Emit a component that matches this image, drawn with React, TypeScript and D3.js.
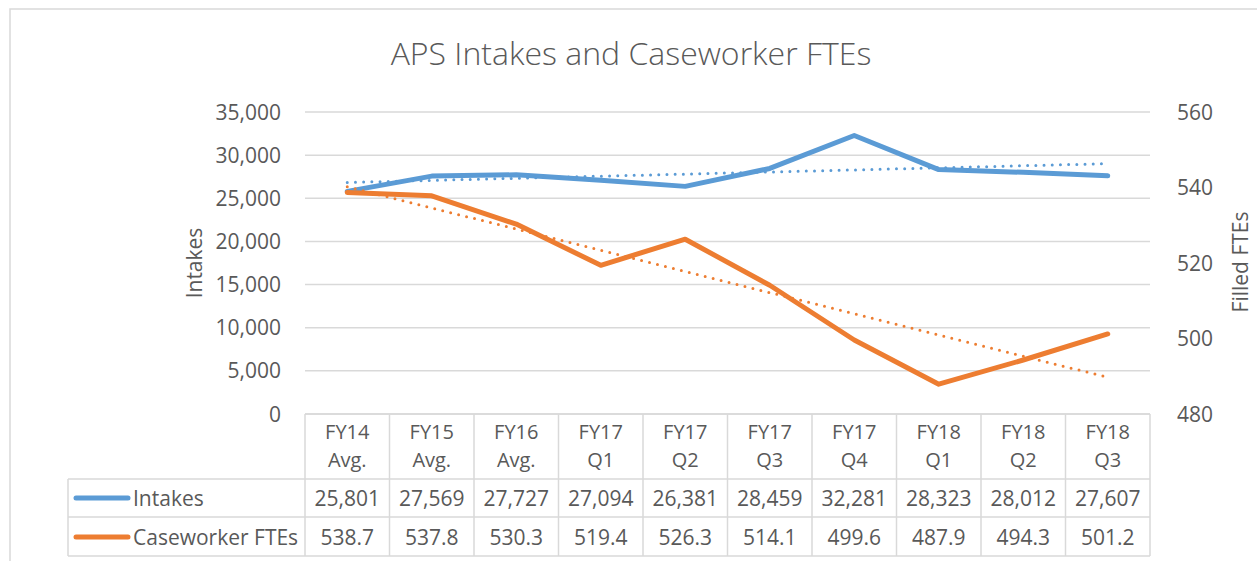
import React from "react";
import * as d3 from "d3";

const categories = [
  ["FY14", "Avg."], ["FY15", "Avg."], ["FY16", "Avg."], ["FY17", "Q1"], ["FY17", "Q2"],
  ["FY17", "Q3"], ["FY17", "Q4"], ["FY18", "Q1"], ["FY18", "Q2"], ["FY18", "Q3"],
];
const intakes = [25801, 27569, 27727, 27094, 26381, 28459, 32281, 28323, 28012, 27607];
const ftes = [538.7, 537.8, 530.3, 519.4, 526.3, 514.1, 499.6, 487.9, 494.3, 501.2];
const leftTicks = [0, 5000, 10000, 15000, 20000, 25000, 30000, 35000];
const rightTicks = [480, 500, 520, 540, 560];

const BLUE = "#5B9BD5";
const ORANGE = "#ED7D31";
const TEXT = "#595959";
const GRID = "#D9D9D9";
const FONT = "'Open Sans', sans-serif";

// least squares fit over the category index, like Excel's linear trendline
function trend(values: number[]) {
  const xs = values.map((_, i) => i + 1);
  const mx = d3.mean(xs)!;
  const my = d3.mean(values)!;
  const slope = d3.sum(xs, (x, i) => (x - mx) * (values[i] - my)) / d3.sum(xs, (x) => (x - mx) ** 2);
  const icpt = my - slope * mx;
  return values.map((_, i) => icpt + slope * (i + 1));
}

export default function App() {
  const width = 1257;
  const height = 561;
  const plotLeft = 305;
  const plotRight = 1150;
  const plotTop = 112;
  const plotBottom = 414;
  const tableLeft = 68;
  const headerBottom = 479;
  const row1Bottom = 517;
  const row2Bottom = 556;

  const keys = categories.map((c) => c.join(" "));
  const x = d3.scaleBand().domain(keys).range([plotLeft, plotRight]).padding(0);
  const cx = (i: number) => x(keys[i])! + x.bandwidth() / 2;
  const yL = d3.scaleLinear().domain([0, 35000]).range([plotBottom, plotTop]);
  const yR = d3.scaleLinear().domain([480, 560]).range([plotBottom, plotTop]);
  const fmt = d3.format(",");

  const lineL = d3.line<number>().x((_, i) => cx(i)).y((d) => yL(d));
  const lineR = d3.line<number>().x((_, i) => cx(i)).y((d) => yR(d));

  const colEdges = keys.map((k) => x(k)!).concat([plotRight]);

  return (
    <svg width={width} height={height} style={{ position: "absolute", left: 0, top: 0, background: "#fff" }}>
      <rect x={10} y={9} width={1300} height={600} fill="#fff" stroke={GRID} strokeWidth={1.5} />
      <text x={631} y={65} textAnchor="middle" fontFamily={FONT} fontSize={32} fill={TEXT} fontWeight={300}>
        APS Intakes and Caseworker FTEs
      </text>

      {/* gridlines */}
      {leftTicks.map((t) => (
        <line key={t} x1={plotLeft} x2={plotRight} y1={yL(t)} y2={yL(t)} stroke={GRID} strokeWidth={1.5} />
      ))}

      {/* left axis */}
      {leftTicks.map((t) => (
        <text key={t} x={281} y={yL(t)} dy="0.36em" textAnchor="end" fontFamily={FONT} fontSize={21} fill={TEXT}>
          {fmt(t)}
        </text>
      ))}
      <text transform={`translate(202,263) rotate(-90)`} textAnchor="middle" fontFamily={FONT} fontSize={21} fill={TEXT}>
        Intakes
      </text>

      {/* right axis */}
      {rightTicks.map((t) => (
        <text key={t} x={1177} y={yR(t)} dy="0.36em" textAnchor="start" fontFamily={FONT} fontSize={21} fill={TEXT}>
          {t}
        </text>
      ))}
      <text transform={`translate(1248,262) rotate(-90)`} textAnchor="middle" fontFamily={FONT} fontSize={21} fill={TEXT}>
        Filled FTEs
      </text>

      {/* series */}
      <path d={lineL(intakes)!} fill="none" stroke={BLUE} strokeWidth={5} strokeLinejoin="round" strokeLinecap="round" />
      <path d={lineR(ftes)!} fill="none" stroke={ORANGE} strokeWidth={5} strokeLinejoin="round" strokeLinecap="round" />
      <path d={lineL(trend(intakes))!} fill="none" stroke={BLUE} strokeWidth={3} strokeDasharray="0 8.2" strokeLinecap="round" />
      <path d={lineR(trend(ftes))!} fill="none" stroke={ORANGE} strokeWidth={3} strokeDasharray="0 8.2" strokeLinecap="round" />

      {/* data table */}
      <g stroke={GRID} strokeWidth={1.5} fill="none">
        <line x1={plotLeft} x2={plotRight} y1={plotBottom} y2={plotBottom} />
        <line x1={tableLeft} x2={plotRight} y1={headerBottom} y2={headerBottom} />
        <line x1={tableLeft} x2={plotRight} y1={row1Bottom} y2={row1Bottom} />
        <line x1={tableLeft} x2={plotRight} y1={row2Bottom} y2={row2Bottom} />
        <line x1={tableLeft} x2={tableLeft} y1={headerBottom} y2={row2Bottom} />
        {colEdges.map((e, i) => (
          <line key={i} x1={e} x2={e} y1={plotBottom} y2={row2Bottom} />
        ))}
      </g>
      {categories.map((c, i) => (
        <text key={i} x={cx(i)} textAnchor="middle" fontFamily={FONT} fontSize={20} fill={TEXT}>
          <tspan x={cx(i)} y={439}>{c[0]}</tspan>
          <tspan x={cx(i)} y={467}>{c[1]}</tspan>
        </text>
      ))}
      {intakes.map((v, i) => (
        <text key={i} x={cx(i)} y={506} textAnchor="middle" fontFamily={FONT} fontSize={21} fill={TEXT}>
          {fmt(v)}
        </text>
      ))}
      {ftes.map((v, i) => (
        <text key={i} x={cx(i)} y={545} textAnchor="middle" fontFamily={FONT} fontSize={21} fill={TEXT}>
          {v.toFixed(1)}
        </text>
      ))}
      <line x1={76} x2={128} y1={498} y2={498} stroke={BLUE} strokeWidth={5} strokeLinecap="round" />
      <text x={133} y={506} fontFamily={FONT} fontSize={21} fill={TEXT}>Intakes</text>
      <line x1={76} x2={128} y1={537} y2={537} stroke={ORANGE} strokeWidth={5} strokeLinecap="round" />
      <text x={133} y={545} fontFamily={FONT} fontSize={21} fill={TEXT}>Caseworker FTEs</text>
    </svg>
  );
}
